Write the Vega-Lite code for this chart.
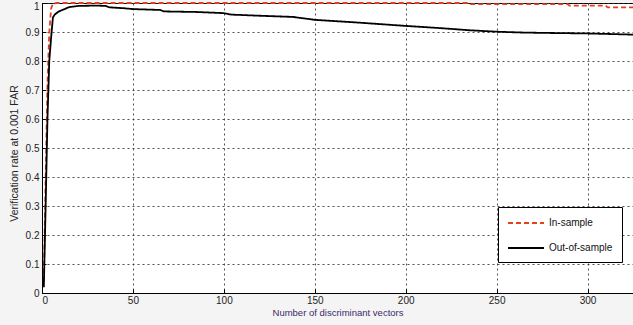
{
  "$schema": "https://vega.github.io/schema/vega-lite/v6.json",
  "width": 591,
  "height": 290,
  "autosize": {"type": "none"},
  "padding": {"left": 42, "top": 3, "right": 0, "bottom": 32},
  "background": "#f4f4f4",
  "config": {
    "view": {"fill": "#ffffff", "stroke": "#000000", "strokeWidth": 1},
    "font": "Liberation Sans",
    "axis": {
      "labelFont": "Liberation Sans",
      "titleFont": "Liberation Sans",
      "labelFontSize": 10,
      "titleFontSize": 10,
      "titleFontWeight": "normal",
      "labelColor": "#222222",
      "domainColor": "#000000",
      "domainWidth": 1,
      "tickColor": "#000000",
      "tickSize": -4,
      "gridColor": "#333333",
      "gridDash": [2, 3],
      "gridOpacity": 0.85,
      "gridWidth": 1
    },
    "legend": {
      "orient": "none",
      "legendX": 456,
      "legendY": 204,
      "padding": 9,
      "fillColor": "#ffffff",
      "strokeColor": "#000000",
      "labelFont": "Liberation Sans",
      "labelFontSize": 10,
      "labelColor": "#111111",
      "symbolType": "M-1,0H5",
      "symbolSize": 144,
      "symbolStrokeWidth": 1.8,
      "symbolFillColor": "transparent",
      "labelOffset": 28,
      "rowPadding": 13
    }
  },
  "data": {
    "values": [
      {"series": "In-sample", "x": 1, "y": 0.04},
      {"series": "In-sample", "x": 2, "y": 0.4},
      {"series": "In-sample", "x": 3, "y": 0.72},
      {"series": "In-sample", "x": 4, "y": 0.9},
      {"series": "In-sample", "x": 5, "y": 0.98},
      {"series": "In-sample", "x": 6, "y": 0.998},
      {"series": "In-sample", "x": 8, "y": 1.0},
      {"series": "In-sample", "x": 235, "y": 1.0},
      {"series": "In-sample", "x": 236, "y": 0.996},
      {"series": "In-sample", "x": 289, "y": 0.996},
      {"series": "In-sample", "x": 290, "y": 0.991},
      {"series": "In-sample", "x": 310, "y": 0.991},
      {"series": "In-sample", "x": 311, "y": 0.985},
      {"series": "In-sample", "x": 325, "y": 0.985},
      {"series": "Out-of-sample", "x": 1, "y": 0.02},
      {"series": "Out-of-sample", "x": 2, "y": 0.3},
      {"series": "Out-of-sample", "x": 3, "y": 0.6},
      {"series": "Out-of-sample", "x": 4, "y": 0.8},
      {"series": "Out-of-sample", "x": 5, "y": 0.88},
      {"series": "Out-of-sample", "x": 6, "y": 0.95},
      {"series": "Out-of-sample", "x": 7, "y": 0.96},
      {"series": "Out-of-sample", "x": 9, "y": 0.97},
      {"series": "Out-of-sample", "x": 12, "y": 0.978},
      {"series": "Out-of-sample", "x": 15, "y": 0.986},
      {"series": "Out-of-sample", "x": 20, "y": 0.99},
      {"series": "Out-of-sample", "x": 30, "y": 0.991},
      {"series": "Out-of-sample", "x": 35, "y": 0.99},
      {"series": "Out-of-sample", "x": 37, "y": 0.985},
      {"series": "Out-of-sample", "x": 45, "y": 0.982},
      {"series": "Out-of-sample", "x": 50, "y": 0.979},
      {"series": "Out-of-sample", "x": 65, "y": 0.976},
      {"series": "Out-of-sample", "x": 67, "y": 0.971},
      {"series": "Out-of-sample", "x": 85, "y": 0.969},
      {"series": "Out-of-sample", "x": 100, "y": 0.965},
      {"series": "Out-of-sample", "x": 104, "y": 0.96},
      {"series": "Out-of-sample", "x": 120, "y": 0.956},
      {"series": "Out-of-sample", "x": 138, "y": 0.952},
      {"series": "Out-of-sample", "x": 150, "y": 0.942},
      {"series": "Out-of-sample", "x": 175, "y": 0.932},
      {"series": "Out-of-sample", "x": 200, "y": 0.921},
      {"series": "Out-of-sample", "x": 220, "y": 0.913},
      {"series": "Out-of-sample", "x": 235, "y": 0.906},
      {"series": "Out-of-sample", "x": 250, "y": 0.901},
      {"series": "Out-of-sample", "x": 265, "y": 0.898},
      {"series": "Out-of-sample", "x": 275, "y": 0.897},
      {"series": "Out-of-sample", "x": 300, "y": 0.895},
      {"series": "Out-of-sample", "x": 325, "y": 0.891}
    ]
  },
  "mark": {"type": "line", "strokeWidth": 1.8, "clip": false},
  "encoding": {
    "x": {
      "field": "x",
      "type": "quantitative",
      "scale": {"domain": [0, 325], "nice": false, "zero": true},
      "axis": {
        "values": [0, 50, 100, 150, 200, 250, 300],
        "title": "Number of discriminant vectors",
        "titleColor": "#3b2a6b",
        "titleFontSize": 9.5,
        "titlePadding": 2,
        "labelPadding": 6
      }
    },
    "y": {
      "field": "y",
      "type": "quantitative",
      "scale": {"domain": [0, 1], "nice": false},
      "axis": {
        "values": [0, 0.1, 0.2, 0.3, 0.4, 0.5, 0.6, 0.7, 0.8, 0.9, 1],
        "format": "~g",
        "title": "Verification rate at 0.001 FAR",
        "titleColor": "#222222",
        "titleFontSize": 10.5,
        "titleY": 150,
        "titlePadding": 6,
        "labelPadding": 7,
        "labelOffset": {"condition": {"test": "datum.value == 1", "value": 3}, "value": 0}
      }
    },
    "color": {
      "field": "series",
      "type": "nominal",
      "scale": {"domain": ["In-sample", "Out-of-sample"], "range": ["#e2401f", "#000000"]},
      "legend": {"title": null}
    },
    "strokeDash": {
      "field": "series",
      "type": "nominal",
      "scale": {"domain": ["In-sample", "Out-of-sample"], "range": [[5, 3], [1, 0]]},
      "legend": {"title": null}
    }
  }
}
